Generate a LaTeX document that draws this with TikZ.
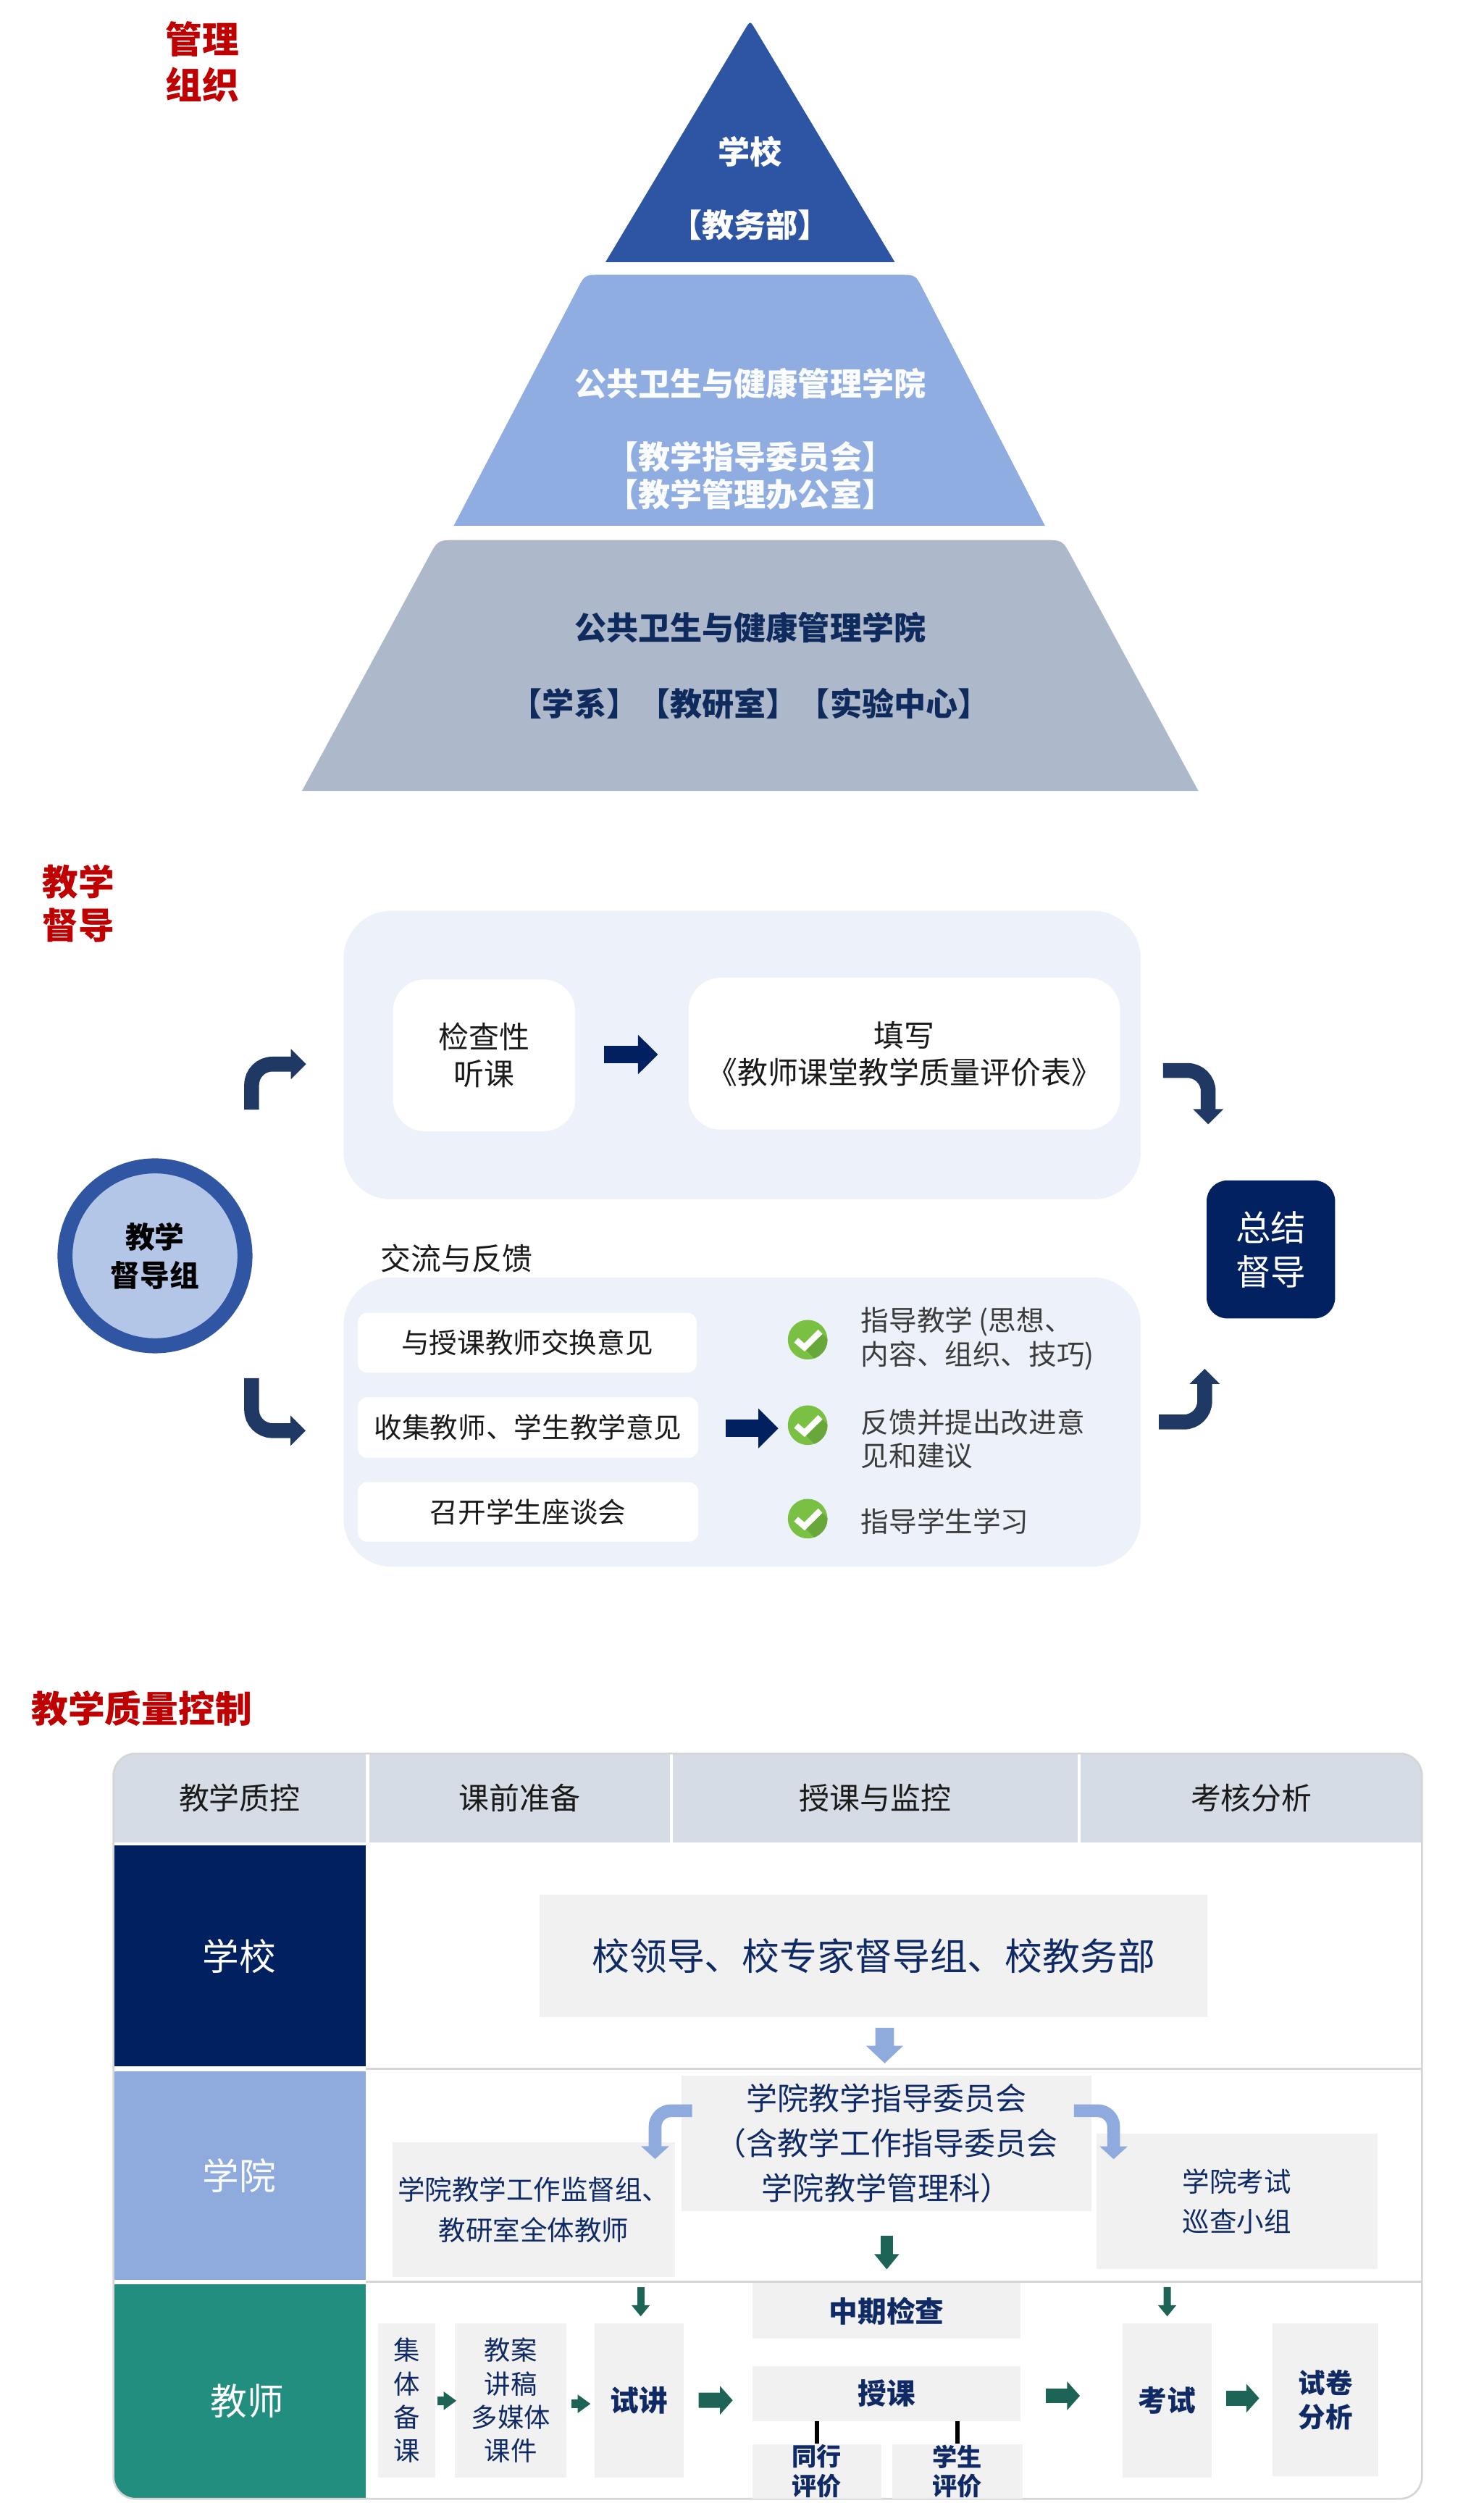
\documentclass[tikz,border=0pt]{standalone}
\usepackage{fontspec}
\setmainfont{Noto Sans CJK SC}
\usetikzlibrary{arrows.meta,calc}
\definecolor{redt}{HTML}{C00000}
\definecolor{tri1}{HTML}{2E54A4}
\definecolor{tri2}{HTML}{8FADE0}
\definecolor{tri3}{HTML}{ADB9CA}
\definecolor{pyrnavy}{HTML}{0F2A5C}
\definecolor{panelc}{HTML}{EDF1F9}
\definecolor{ringc}{HTML}{2F55A3}
\definecolor{circfill}{HTML}{B4C6E8}
\definecolor{bendc}{HTML}{203864}
\definecolor{navyA}{HTML}{002060}
\definecolor{sumc}{HTML}{022161}
\definecolor{chkg}{HTML}{7AC143}
\definecolor{chkd}{HTML}{68A83A}
\definecolor{hdrc}{HTML}{D6DCE5}
\definecolor{colblue}{HTML}{8FAADC}
\definecolor{tealc}{HTML}{218E80}
\definecolor{grayb}{HTML}{F1F1F1}
\definecolor{tealA}{HTML}{1E6456}
\definecolor{tabtxt}{HTML}{0F2A64}
\definecolor{borderc}{HTML}{D5D5D5}
\definecolor{txtc}{HTML}{1A1A1A}
\newcommand\myfs[2]{\fontsize{#1}{#2}\selectfont}
\newcommand\mycheck[1]{%
  \begin{scope}
    \clip (#1.center) circle (12.4);
    \fill[chkd] ($(#1.center)+(-7.25,0.3)$) -- ($(#1.center)+(-2,4.8)$) -- ($(#1.center)+(7.9,-5)$)
      -- ($(#1.center)+(22.9,10)$) -- ($(#1.center)+(13,19.8)$) -- ($(#1.center)+(7.75,15.3)$) -- cycle;
  \end{scope}
  \draw[white, line width=3.8pt] ($(#1.center)+(-7.25,0.3)$) -- ($(#1.center)+(-2,4.8)$) -- ($(#1.center)+(7.9,-5)$);
}
\begin{document}
\begin{tikzpicture}[x=1pt,y=-1pt,
  every node/.style={inner sep=0pt, align=center},
  titlered/.style={font=\myfs{23}{28.2}\bfseries, text=redt},
  pyrtxt/.style={font=\myfs{20}{23.6}\bfseries},
  panel/.style={fill=panelc, rounded corners=30pt},
  wbig/.style={fill=white, rounded corners=20pt, font=\myfs{19}{23}, text=txtc},
  wsmall/.style={fill=white, rounded corners=6pt, font=\myfs{17.5}{21}, text=txtc},
  sidetxt/.style={font=\myfs{17.5}{21.2}, text=txtc!85, align=left, anchor=west},
  bendarrow/.style={draw=bendc, line width=9.3pt, rounded corners=13pt, -{Triangle[length=9.5pt,width=18.4pt]}},
  blockarrow/.style={draw=navyA, line width=11pt, -{Triangle[length=12.5pt,width=24pt]}},
  chk/.style={circle, fill=chkg, minimum size=24.8pt},
  hdrcell/.style={fill=hdrc, minimum height=55.7pt, font=\myfs{19}{23}, text=txtc},
  leftcell/.style={minimum width=157.8pt, font=\myfs{23}{27}, text=white},
  gbox/.style={fill=grayb, text=tabtxt},
  lbcurve/.style={draw=colblue, line width=8pt, rounded corners=10pt, -{Triangle[length=8pt,width=17pt]}},
  lbdown/.style={draw=colblue, line width=11.7pt, -{Triangle[length=11pt,width=22.6pt]}},
  tdown/.style={draw=tealA, line width=8pt, -{Triangle[length=9.6pt,width=15pt]}},
  tdownS/.style={draw=tealA, line width=4.5pt, -{Triangle[length=7pt,width=11pt]}},
  tright/.style={draw=tealA, line width=9.5pt, -{Triangle[length=8pt,width=17.5pt]}},
  trightS/.style={draw=tealA, line width=5.7pt, -{Triangle[length=8pt,width=11pt]}}
]
\useasboundingbox[fill=white] (0,0) rectangle (928.4,1566.6);

% ================= Section 1: pyramid =================
\node[titlered] (t1) at (126.5,38.7) {管理\\组织};

\fill[tri1] (379,164) -- (466.4,18.1) .. controls (469.5,13) .. (472.6,18.1) -- (560,164) -- cycle;
\fill[tri2] (284,329) -- (361.4,180.9) .. controls (366,172) .. (376,172) -- (563,172)
  .. controls (573,172) .. (577.6,180.9) -- (654,329) -- cycle;
\fill[tri3] (189,495) -- (268.3,348.6) .. controls (274,338) .. (286,338) -- (653,338)
  .. controls (665,338) .. (670.7,348.6) -- (750,495) -- cycle;

\node[pyrtxt, text=white] (p1a) at (469.5,95) {学校};
\node[pyrtxt, text=white] (p1b) at (469.5,141) {【教务部】};
\node[pyrtxt, text=white!96!tri2] (p2a) at (469.5,240) {公共卫生与健康管理学院};
\node[pyrtxt, text=white!96!tri2] (p2b) at (469.5,297.8) {【教学指导委员会】\\【教学管理办公室】};
\node[pyrtxt, text=pyrnavy] (p3a) at (469.5,393) {公共卫生与健康管理学院};
\node[pyrtxt, text=pyrnavy] (p3b) at (469.5,440.6) {【学系】【教研室】【实验中心】};

% ================= Section 2: supervision =================
\node[titlered, font=\myfs{22.5}{27.3}\bfseries] (t2) at (49,565.4) {教学\\督导};

\node[panel, minimum width=499pt, minimum height=180.7pt] (up) at (464.5,660.4) {};
\node[panel, minimum width=499pt, minimum height=181pt] (low) at (464.5,890) {};

\node[wbig, minimum width=114pt, minimum height=95pt] (b1) at (303,660.5) {检查性\\听课};
\node[wbig, minimum width=270pt, minimum height=95pt] (b2) at (566,659.5) {填写\\《教师课堂教学质量评价表》};
\draw[blockarrow] ($(b1.east)+(18,-0.5)$) -- ($(b2.west)+(-19,0.5)$);

\node[circle, draw=ringc, line width=9.4pt, fill=circfill, minimum size=112.6pt,
      font=\myfs{18.5}{24}\bfseries, text=black] (grp) at (97,786) {教学\\督导组};

\node[fill=sumc, rounded corners=13pt, minimum width=80.4pt, minimum height=86.4pt,
      font=\myfs{22}{27.7}, text=white] (sum) at (795.4,782) {总结\\督导};

\node[font=\myfs{19}{23}, text=txtc, anchor=west] (jl) at (238,787.6) {交流与反馈};

\node[wsmall, minimum width=212pt, minimum height=37.6pt] (w1) at (330,840.4) {与授课教师交换意见};
\node[wsmall, minimum width=213pt, minimum height=38pt] (w2) at (330.5,893.5) {收集教师、学生教学意见};
\node[wsmall, minimum width=213pt, minimum height=37.4pt] (w3) at (330.5,946.3) {召开学生座谈会};

\node[chk] (k1) at (505.5,838.5) {};
\node[chk] (k2) at (505.5,892) {};
\node[chk] (k3) at (505.5,950.5) {};
\mycheck{k1}\mycheck{k2}\mycheck{k3}
\draw[blockarrow] ($(w2.east)+(17,0.5)$) -- ($(k2.west)+(-5.7,2)$);

\node[sidetxt] (s1) at (538.7,837.9) {指导教学 (思想、\\内容、组织、技巧)};
\node[sidetxt] (s2) at (538.7,900.6) {反馈并提出改进意\\见和建议};
\node[sidetxt] (s3) at (538.7,952) {指导学生学习};

\coordinate (ulS) at (157.5,694.5);  \coordinate (ulE) at (191.6,666);
\coordinate (llS) at (157.5,862.6);  \coordinate (llE) at (191.3,895.4);
\coordinate (urS) at (727.9,670);    \coordinate (urE) at (756.2,703.7);
\coordinate (lrS) at (725.3,890);    \coordinate (lrE) at (754,856.7);
\draw[bendarrow] (ulS) |- (ulE);
\draw[bendarrow] (llS) |- (llE);
\draw[bendarrow] (urS) -| (urE);
\draw[bendarrow] (lrS) -| (lrE);

% ================= Section 3: quality control table =================
\node[titlered] (t3) at (88.65,1069.5) {教学质量控制};

\begin{scope}
  \clip[rounded corners=14pt] (71,1097.5) rectangle (890,1564);
  \fill[white] (71,1097.5) rectangle (890,1564);
  \node[hdrcell, minimum width=158pt] (h1) at (150,1125.35) {教学质控};
  \node[hdrcell, minimum width=188.3pt] (h2) at (325.15,1125.35) {课前准备};
  \node[hdrcell, minimum width=253.2pt] (h3) at (547.9,1125.35) {授课与监控};
  \node[hdrcell, minimum width=213.5pt] (h4) at (783.25,1125.35) {考核分析};
  \node[leftcell, fill=navyA, minimum height=138.2pt] (rs) at (149.9,1224.3) {学校};
  \node[leftcell, fill=colblue, minimum height=130.5pt, text=white!95!colblue] (rc) at (149.9,1361.75) {学院};
  \node[leftcell, fill=tealc, minimum height=136pt] (rt) at (149.9,1497.5) {};
\end{scope}
\node[font=\myfs{23}{27}, text=white] (rtt) at (154.6,1502.7) {教师};
\draw[borderc, line width=1.5pt] (rs.south east |- 0,1294.9) -- (890,1294.9);
\draw[borderc, line width=1.5pt] (rc.south east |- 0,1428.2) -- (890,1428.2);
\draw[borderc, line width=1.2pt, rounded corners=14pt] (71,1097.5) rectangle (890,1564);

% row 1
\node[gbox, minimum width=418pt, minimum height=76.6pt, font=\myfs{23.5}{28}] (sch) at (546.8,1224.1) {校领导、校专家督导组、校教务部};
% row 2
\node[gbox, minimum width=256.3pt, minimum height=84.7pt, font=\myfs{19.5}{28}] (com) at (554.85,1341.55) {学院教学指导委员会\\（含教学工作指导委员会\\学院教学管理科）};
\node[gbox, minimum width=177pt, minimum height=84.2pt, font=\myfs{17}{25.2}] (sup) at (334,1383.1) {学院教学工作监督组、\\教研室全体教师};
\node[gbox, minimum width=176.2pt, minimum height=84.6pt, font=\myfs{17}{25.2}] (pat) at (774.2,1377.9) {学院考试\\巡查小组};
% row 3
\node[gbox, minimum width=35.5pt, minimum height=96.8pt, font=\myfs{16.5}{21}] (jt) at (254.55,1502.4) {集\\体\\备\\课};
\node[gbox, minimum width=70pt, minimum height=96.8pt, font=\myfs{16.5}{21}] (ja) at (319.7,1502.4) {教案\\讲稿\\多媒体\\课件};
\node[gbox, minimum width=55.8pt, minimum height=96.8pt, font=\myfs{18}{22}\bfseries] (sj) at (400,1502.4) {试讲};
\node[gbox, minimum width=167.7pt, minimum height=34.8pt, font=\myfs{18}{22}\bfseries] (zq) at (554.85,1446.4) {中期检查};
\node[gbox, minimum width=167.7pt, minimum height=34.5pt, font=\myfs{18}{22}\bfseries] (sk) at (554.85,1498.05) {授课};
\node[gbox, minimum width=80.5pt, minimum height=34.3pt, font=\myfs{15.5}{18.5}\bfseries] (tx) at (511.25,1546.85) {同行\\评价};
\node[gbox, minimum width=81.5pt, minimum height=34.3pt, font=\myfs{15.5}{18.5}\bfseries] (xs) at (599.25,1546.85) {学生\\评价};
\node[gbox, minimum width=55.9pt, minimum height=96.8pt, font=\myfs{18}{22}\bfseries] (ks) at (730.55,1502.4) {考试};
\node[gbox, minimum width=66.1pt, minimum height=96pt, font=\myfs{17}{21.5}\bfseries] (fx) at (829.55,1502) {试卷\\分析};

\draw[black, line width=2.6pt] (sk.south -| tx.north) -- (tx.north);
\draw[black, line width=2.6pt] (sk.south -| xs.north) -- (xs.north);

% arrows in table
\draw[lbdown] ($(sch.south)+(6.9,6.6)$) -- ($(com.north)+(-1.15,-7.6)$);
\draw[lbcurve] ($(com.west)+(6.7,-20.5)$) -| ($(sup.north)+(76,10.5)$);
\draw[lbcurve] ($(com.east)+(-11,-20.5)$) -| ($(pat.north)+(-77.2,16)$);
\draw[tdown] ($(com.south)+(0.15,15.1)$) -- ($(zq.north)+(0.15,-8.4)$);
\draw[tdownS] ($(sup.south)+(67,6)$) -- ($(sj.north)+(1,-4)$);
\draw[tdownS] ($(pat.south)+(-43.7,11)$) -- ($(ks.north)+(0,-4)$);
\draw[trightS] ($(jt.east)+(1.2,0.2)$) -- ($(ja.west)+(1.2,0.2)$);
\draw[trightS] ($(ja.east)+(2.7,2.1)$) -- ($(sj.west)+(-2.3,2.1)$);
\draw[tright] ($(sj.east)+(9.2,-0.1)$) -- ($(sk.west)+(-12.2,4.25)$);
\draw[tright] ($(sk.east)+(15.8,1.45)$) -- ($(ks.west)+(-26.5,-2.9)$);
\draw[tright] ($(ks.east)+(8.9,-1.4)$) -- ($(fx.west)+(-8.2,-1)$);

\end{tikzpicture}
\end{document}
